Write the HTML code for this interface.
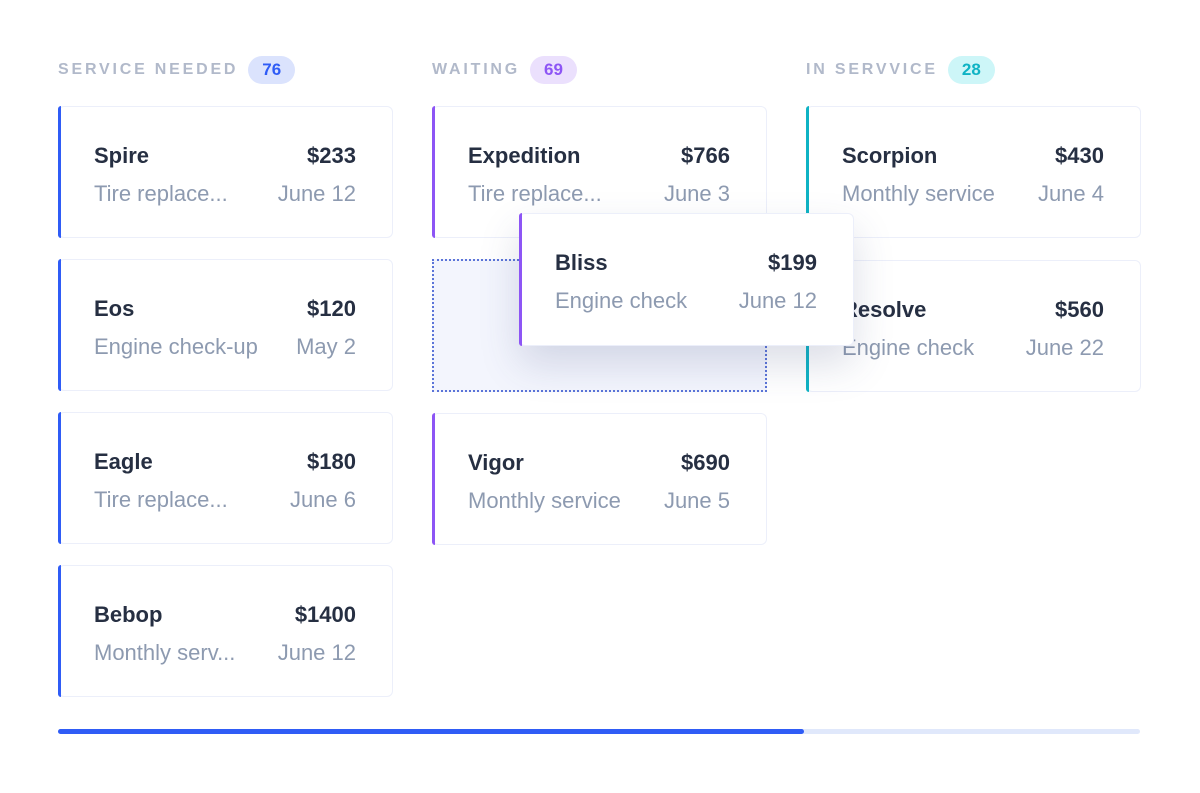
<!DOCTYPE html>
<html><head><style>
body{margin:0;width:1200px;height:793px;background:#fff;font-family:"Liberation Sans",sans-serif;position:relative;overflow:hidden}
.h{position:absolute;top:56px;height:28px;display:flex;align-items:center;font-size:16px;font-weight:bold;letter-spacing:2.8px;color:#b1b9ca}
.b{margin-left:10px;height:28px;padding:0 14px;border-radius:14px;display:flex;align-items:center;letter-spacing:0;font-size:17px}
.c{position:absolute;width:335px;height:132px;border:1px solid #eceffa;border-radius:6px;background:#fff;box-sizing:border-box}
.c::before{content:"";position:absolute;left:-1px;top:-1px;bottom:-1px;width:3px;border-radius:6px 0 0 6px;background:var(--a)}
.r{position:absolute;left:35px;right:36px;display:flex;justify-content:space-between;white-space:nowrap}
.r1{top:36px;font-size:22px;font-weight:bold;color:#262f42}
.r2{top:74px;font-size:22px;color:#8d9ab0}
</style></head><body>
<div class="h" style="left:58px">SERVICE NEEDED<span class="b" style="background:#dbe3fd;color:#2f5cf6">76</span></div>
<div class="h" style="left:432px">WAITING<span class="b" style="background:#ebe0fd;color:#8d55f5">69</span></div>
<div class="h" style="left:806px">IN SERVVICE<span class="b" style="background:#cdf6f8;color:#0fb3c4">28</span></div>

<div class="c" style="left:58px;top:106px;--a:#2f5cf6"><div class="r r1"><span>Spire</span><span>$233</span></div><div class="r r2"><span>Tire replace...</span><span>June 12</span></div></div>
<div class="c" style="left:58px;top:259px;--a:#2f5cf6"><div class="r r1"><span>Eos</span><span>$120</span></div><div class="r r2"><span>Engine check-up</span><span>May 2</span></div></div>
<div class="c" style="left:58px;top:412px;--a:#2f5cf6"><div class="r r1"><span>Eagle</span><span>$180</span></div><div class="r r2"><span>Tire replace...</span><span>June 6</span></div></div>
<div class="c" style="left:58px;top:565px;--a:#2f5cf6"><div class="r r1"><span>Bebop</span><span>$1400</span></div><div class="r r2"><span>Monthly serv...</span><span>June 12</span></div></div>

<div class="c" style="left:432px;top:106px;--a:#8d55f5"><div class="r r1"><span>Expedition</span><span>$766</span></div><div class="r r2"><span>Tire replace...</span><span>June 3</span></div></div>
<div style="position:absolute;left:432px;top:259px;width:335px;height:133px;box-sizing:border-box;border:2px dotted #5b74d8;background:#f3f5fd"></div>
<div class="c" style="left:432px;top:413px;--a:#8d55f5"><div class="r r1"><span>Vigor</span><span>$690</span></div><div class="r r2"><span>Monthly service</span><span>June 5</span></div></div>

<div class="c" style="left:806px;top:106px;--a:#0fb3c4"><div class="r r1"><span>Scorpion</span><span>$430</span></div><div class="r r2"><span>Monthly service</span><span>June 4</span></div></div>
<div class="c" style="left:806px;top:260px;--a:#0fb3c4"><div class="r r1"><span>Resolve</span><span>$560</span></div><div class="r r2"><span>Engine check</span><span>June 22</span></div></div>

<div class="c" style="left:519px;top:213px;width:335px;height:133px;--a:#8d55f5;box-shadow:0 18px 40px rgba(60,70,120,0.18)"><div class="r r1"><span>Bliss</span><span>$199</span></div><div class="r r2"><span>Engine check</span><span>June 12</span></div></div>

<div style="position:absolute;left:58px;top:729px;width:1082px;height:5px;border-radius:3px;background:#e0e8fb"></div>
<div style="position:absolute;left:58px;top:729px;width:746px;height:5px;border-radius:3px;background:#2f5cf6"></div>
</body></html>
